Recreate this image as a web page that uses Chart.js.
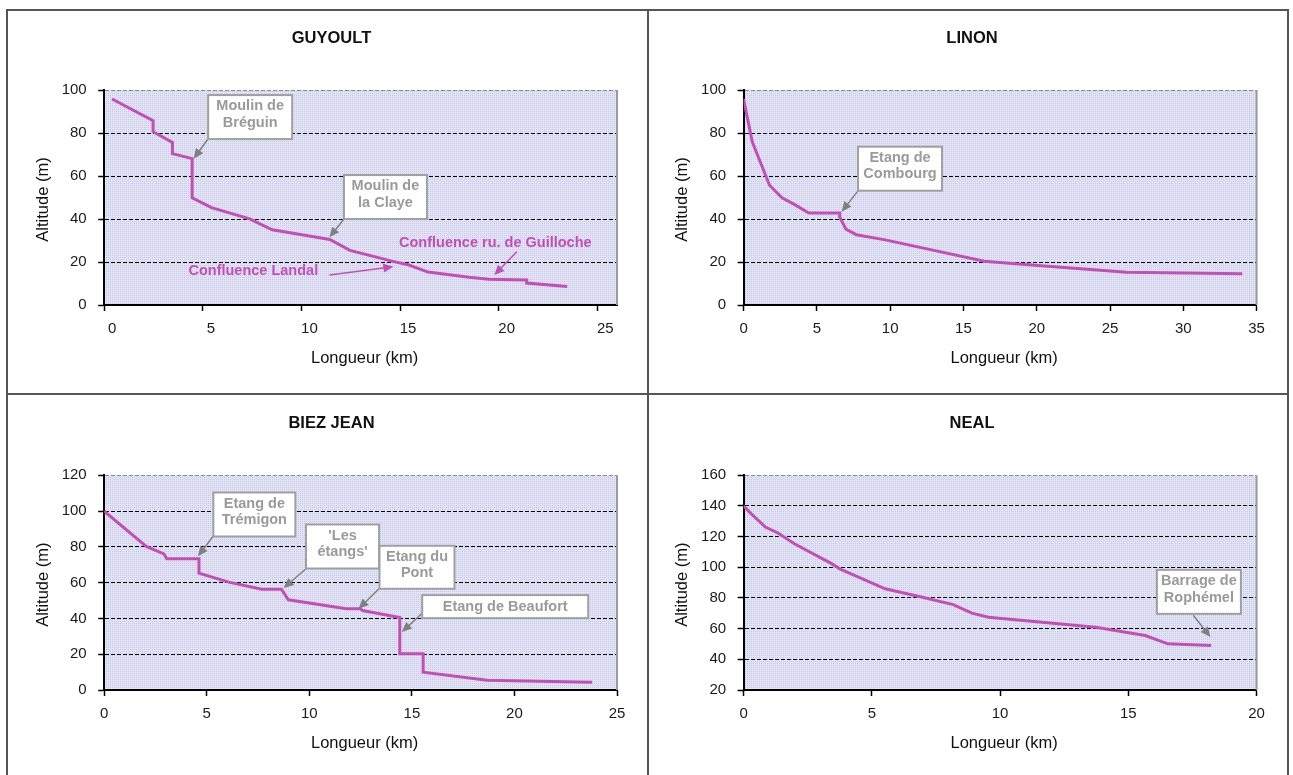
<!DOCTYPE html>
<html>
<head>
<meta charset="utf-8">
<script src="https://cdn.jsdelivr.net/npm/chart.js@4.4.1/dist/chart.umd.min.js"></script>
<style>
  body { margin: 0; background: #fff; width: 1293px; height: 775px; overflow: hidden; position: relative; }
  canvas { position: absolute; }
  .ln { position: absolute; background: #555; }
</style>
</head>
<body>
<div class="ln" style="left:6px;top:9px;width:1283px;height:2px"></div>
<div class="ln" style="left:6px;top:9px;width:2px;height:766px"></div>
<div class="ln" style="left:1287px;top:9px;width:2px;height:766px"></div>
<div class="ln" style="left:647px;top:9px;width:2px;height:766px"></div>
<div class="ln" style="left:6px;top:393px;width:1283px;height:2px"></div>

<canvas id="guyoult" style="left:8px;top:11px" width="639" height="382"></canvas>
<canvas id="linon" style="left:649px;top:11px" width="638" height="382"></canvas>
<canvas id="biez" style="left:8px;top:395px" width="639" height="380"></canvas>
<canvas id="neal" style="left:649px;top:395px" width="638" height="380"></canvas>

<script>
// Profils en long (longueur en km, altitude en m)
const guyoultKm  = [0.4, 2.48, 2.48, 3.46, 3.46, 4.46, 4.46, 5.44, 7.38, 8.52, 11.44, 12.46, 14.64, 15.45, 16.42, 18.5, 19.5, 21.42, 21.42, 23.48];
const guyoultAlt = [95.8, 85.7, 80.6, 75.6, 70.4, 68.1, 49.9, 45.3, 40.1, 35.0, 30.5, 25.4, 20.3, 18.6, 15.3, 12.9, 12.0, 11.6, 10.2, 8.6];

const linonKm  = [0, 0.59, 1.77, 2.62, 3.46, 4.45, 6.56, 6.56, 6.98, 7.69, 9.66, 16.42, 20.08, 26.13, 34.02];
const linonAlt = [95.8, 75.9, 55.7, 49.9, 46.8, 42.8, 42.8, 40.9, 35.3, 32.7, 30.3, 20.4, 18.4, 15.2, 14.5];

const biezKm  = [0, 2.05, 2.91, 3.05, 4.62, 4.62, 6.07, 7.68, 8.64, 8.98, 11.8, 12.5, 12.6, 14.41, 14.41, 15.55, 15.55, 18.67, 23.79];
const biezAlt = [100, 80.2, 76.1, 73.3, 73.3, 65.3, 60.3, 56.3, 56.3, 50.4, 45.4, 45.4, 44.4, 40.5, 20.2, 20.2, 9.9, 5.5, 4.3];

const nealKm  = [0, 0.29, 0.85, 1.34, 1.98, 3.43, 3.75, 5.52, 6.97, 8.17, 8.9, 9.55, 13.73, 15.66, 16.54, 18.23];
const nealAlt = [140, 135, 126.3, 122.4, 115.4, 102.4, 99, 86, 80.5, 75.7, 70.1, 67.4, 60.9, 55.5, 50.1, 49];

// Annotations (positions in km / m)
const guyoultNotes = [
    { lines: ['Moulin de', 'Bréguin'], x: 7.40, y: 87.4, w: 84, h: 44, tail: [5.26, 77.2], tip: [4.54, 68.0] },
    { lines: ['Moulin de', 'la Claye'], x: 14.26, y: 50.2, w: 83, h: 44, tail: [12.16, 40.0], tip: [11.42, 31.5] },
    { lines: ['Confluence ru. de Guilloche'], x: 19.83, y: 28.7, pink: true, tail: [20.92, 24.8], tip: [19.78, 13.95] },
    { lines: ['Confluence Landal'], x: 7.56, y: 15.8, pink: true, tail: [11.42, 13.95], tip: [14.66, 17.8] }
];
const linonNotes = [
    { lines: ['Etang de', 'Combourg'], x: 10.67, y: 63.4, w: 84, h: 44, tail: [7.82, 53.2], tip: [6.69, 43.4] }
];
const biezNotes = [
    { lines: ['Etang de', 'Trémigon'], x: 7.32, y: 98.1, w: 82, h: 44, tail: [5.31, 85.9], tip: [4.57, 74.7] },
    { lines: ["'Les", "étangs'"], x: 11.62, y: 80.2, w: 73, h: 44, tail: [9.84, 67.8], tip: [8.75, 57.0] },
    { lines: ['Etang du', 'Pont'], x: 15.25, y: 68.6, w: 75, h: 43, tail: [13.4, 56.6], tip: [12.4, 45.4] },
    { lines: ['Etang de Beaufort'], x: 19.55, y: 46.6, w: 166, h: 23, tail: [15.52, 43.0], tip: [14.51, 32.4] }
];
const nealNotes = [
    { lines: ['Barrage de', 'Rophémel'], x: 17.75, y: 84.0, w: 84, h: 44, tail: [17.53, 68.7], tip: [18.2, 54.6] }
];

const LINE = '#c24fb5';
const FONT = '"Liberation Sans", Arial, sans-serif';

Chart.defaults.font.family = FONT;
Chart.defaults.color = '#1a1a1a';

let pattern = null;
function bgPattern(ctx) {
    if (!pattern) {
        const pc = document.createElement('canvas');
        pc.width = 2; pc.height = 2;
        const p = pc.getContext('2d');
        p.fillStyle = '#e3e3f6';
        p.fillRect(0, 0, 2, 2);
        p.fillStyle = '#c8c8e6';
        p.fillRect(0, 0, 1, 1);
        pattern = ctx.createPattern(pc, 'repeat');
    }
    return pattern;
}

function arrow(ctx, x1, y1, x2, y2, color, width) {
    const ang = Math.atan2(y2 - y1, x2 - x1);
    const len = 10, half = 4.5;
    ctx.strokeStyle = color;
    ctx.fillStyle = color;
    ctx.lineWidth = width;
    ctx.beginPath();
    ctx.moveTo(x1, y1);
    ctx.lineTo(x2 - Math.cos(ang) * len * 0.8, y2 - Math.sin(ang) * len * 0.8);
    ctx.stroke();
    ctx.beginPath();
    ctx.moveTo(x2, y2);
    ctx.lineTo(x2 - Math.cos(ang) * len + Math.sin(ang) * half, y2 - Math.sin(ang) * len - Math.cos(ang) * half);
    ctx.lineTo(x2 - Math.cos(ang) * len - Math.sin(ang) * half, y2 - Math.sin(ang) * len + Math.cos(ang) * half);
    ctx.closePath();
    ctx.fill();
}

const decor = {
    id: 'decor',
    beforeDraw(chart, args, o) {
        const { ctx, chartArea: a } = chart;
        ctx.save();
        ctx.fillStyle = bgPattern(ctx);
        ctx.fillRect(a.left, a.top, a.right - a.left, a.bottom - a.top);
        ctx.restore();
    },
    afterDraw(chart, args, o) {
        const { ctx, chartArea: a, scales: { x, y } } = chart;
        ctx.save();
        // plot area right border
        ctx.strokeStyle = '#9a9a9a';
        ctx.lineWidth = 2;
        ctx.beginPath();
        ctx.moveTo(a.right, a.top);
        ctx.lineTo(a.right, a.bottom);
        ctx.stroke();

        // titles
        ctx.fillStyle = '#111';
        ctx.textAlign = 'center';
        ctx.textBaseline = 'middle';
        ctx.font = 'bold 16.5px ' + FONT;
        ctx.fillText(o.title, chart.width / 2 + 4, a.top - 52);
        ctx.font = '16.5px ' + FONT;
        ctx.fillText('Longueur (km)', (a.left + a.right) / 2 + 4, a.bottom + 53.5);
        ctx.save();
        ctx.translate(a.left - 61, (a.top + a.bottom) / 2 + 2);
        ctx.rotate(-Math.PI / 2);
        ctx.fillText('Altitude (m)', 0, 0);
        ctx.restore();

        // annotations
        o.notes.forEach(n => {
            const cx = x.getPixelForValue(n.x), cy = y.getPixelForValue(n.y);
            const color = n.pink ? LINE : '#808080';
            arrow(ctx, x.getPixelForValue(n.tail[0]), y.getPixelForValue(n.tail[1]),
                  x.getPixelForValue(n.tip[0]), y.getPixelForValue(n.tip[1]), color, 1.5);
            if (!n.pink) {
                ctx.fillStyle = '#fff';
                ctx.fillRect(cx - n.w / 2, cy - n.h / 2, n.w, n.h);
                ctx.strokeStyle = '#a0a0a0';
                ctx.lineWidth = 2;
                ctx.strokeRect(cx - n.w / 2, cy - n.h / 2, n.w, n.h);
            }
            ctx.fillStyle = n.pink ? LINE : '#9a9a9a';
            ctx.font = 'bold 14.5px ' + FONT;
            const k = n.lines.length;
            n.lines.forEach((t, i) => {
                const dy = (i - (k - 1) / 2) * 16.5 - (k > 1 ? 2.5 : 0);
                ctx.fillText(t, cx, cy + dy);
            });
        });
        ctx.restore();
    }
};

function makeChart(id, title, km, alt, notes, xr, yr, area, labelOffset) {
    const el = document.getElementById(id);
    const W = el.width, H = el.height;
    const points = km.map((v, i) => ({ x: v, y: alt[i] }));
    return new Chart(el, {
        type: 'line',
        data: {
            datasets: [{
                data: points,
                borderColor: LINE,
                borderWidth: 3,
                pointRadius: 0,
                tension: 0,
                fill: false
            }]
        },
        options: {
            responsive: false,
            animation: false,
            layout: { padding: { left: 0, top: area.top, right: W - area.right, bottom: 0 } },
            scales: {
                x: {
                    type: 'linear',
                    min: xr[0], max: xr[1],
                    afterFit: s => { s.height = H - area.bottom; },
                    ticks: {
                        stepSize: 5,
                        includeBounds: false,
                        padding: 9,
                        labelOffset: labelOffset || 0,
                        maxRotation: 0,
                        font: { size: 15 },
                        color: '#1a1a1a'
                    },
                    grid: {
                        drawOnChartArea: false,
                        drawTicks: true,
                        tickLength: 6,
                        tickColor: '#000',
                        tickWidth: 1.5
                    },
                    border: { color: '#000', width: 2 }
                },
                y: {
                    min: yr[0], max: yr[1],
                    afterFit: s => { s.width = area.left; },
                    ticks: {
                        stepSize: 20,
                        padding: 11.5,
                        font: { size: 15 },
                        color: '#1a1a1a'
                    },
                    grid: {
                        color: c => (c.tick && c.tick.value === yr[1]) ? '#8a8a8a' : '#000',
                        lineWidth: 1,
                        tickLength: 6,
                        tickColor: '#000',
                        tickWidth: 1.5,
                        tickBorderDash: []
                    },
                    border: { color: '#000', width: 2, dash: [4, 2] }
                }
            },
            plugins: {
                legend: { display: false },
                tooltip: { enabled: false },
                decor: { title: title, notes: notes }
            }
        },
        plugins: [decor]
    });
}

makeChart('guyoult', 'GUYOULT', guyoultKm, guyoultAlt, guyoultNotes, [0, 26], [0, 100],
    { left: 96.2, right: 609, top: 79, bottom: 294 }, 8);
makeChart('linon', 'LINON', linonKm, linonAlt, linonNotes, [0, 35], [0, 100],
    { left: 94.6, right: 607.6, top: 79, bottom: 294 });
makeChart('biez', 'BIEZ JEAN', biezKm, biezAlt, biezNotes, [0, 25], [0, 120],
    { left: 96.2, right: 609, top: 80.3, bottom: 295 });
makeChart('neal', 'NEAL', nealKm, nealAlt, nealNotes, [0, 20], [20, 160],
    { left: 94.6, right: 607.6, top: 80.3, bottom: 295 });
</script>
</body>
</html>
